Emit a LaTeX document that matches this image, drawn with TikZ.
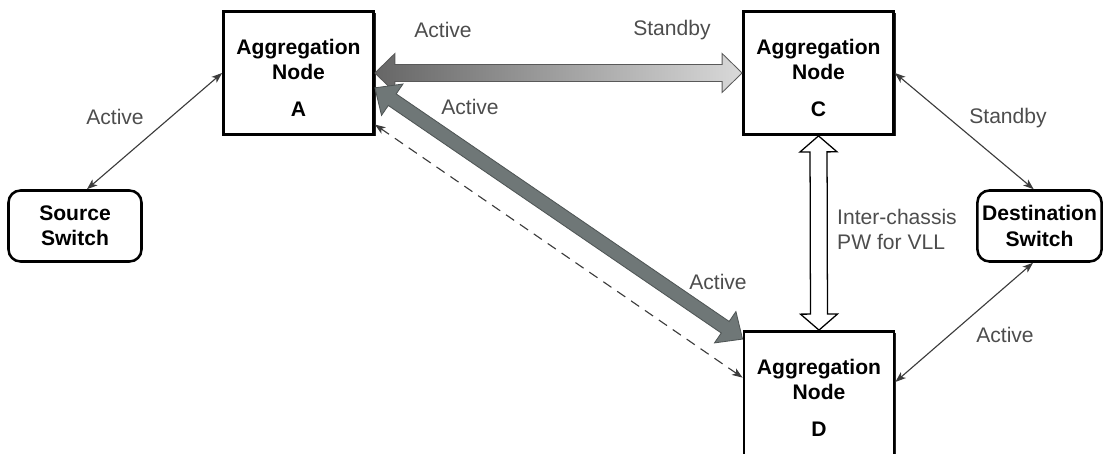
\documentclass[tikz,border=0pt]{standalone}
\usepackage{fontspec}
\setmainfont{Liberation Sans}
\usetikzlibrary{arrows.meta,calc,shadows}

\definecolor{lblgray}{HTML}{4D4D4D}
\definecolor{linegray}{HTML}{3C3C3C}
\definecolor{fatgray}{HTML}{6F7777}
\definecolor{fatedge}{HTML}{4F5555}

% fat double arrow: from, to, shaft half width, head half width, head length
\newcommand{\fatarrow}[6][]{%
  \path[#1] let \p1=(#2),\p2=(#3),\n1={atan2(\y2-\y1,\x2-\x1)},\n2={veclen(\x2-\x1,\y2-\y1)} in
    [shift={(\p1)},rotate=\n1]
    (0,0) -- (#6,#5) -- (#6,#4) -- ({\n2-#6},#4) -- ({\n2-#6},#5) -- (\n2,0)
    -- ({\n2-#6},-#5) -- ({\n2-#6},-#4) -- (#6,-#4) -- (#6,-#5) -- cycle;}
\newcommand{\aggtext}[1]{\rule{0pt}{17.7pt}Aggregation\\Node\\[8pt]#1}

\begin{document}
\begin{tikzpicture}[
  aggnode/.style={draw,line width=2pt,fill=white,minimum width=3.75cm,minimum height=3.075cm,
    align=center,font=\bfseries\fontsize{15}{18}\selectfont,
    drop shadow={shadow xshift=0.05cm,shadow yshift=-0.05cm,fill=black!85,opacity=1}},
  switchnode/.style={draw,line width=1.8pt,rounded corners=0.3cm,minimum height=1.775cm,
    align=center,font=\bfseries\fontsize{15}{18}\selectfont},
  lbl/.style={text=lblgray,font=\fontsize{15}{18}\selectfont},
  link/.style={draw=linegray,line width=0.8pt,
    {Stealth[length=7.5pt,width=5.5pt,inset=2pt]}-{Stealth[length=7.5pt,width=5.5pt,inset=2pt]}}]
\useasboundingbox (0,0) rectangle (27.6,11.35);

\node[aggnode] (A) at (7.4625,9.525) {\aggtext{A}};
\node[aggnode] (C) at (20.4625,9.525) {\aggtext{C}};
\node[aggnode,minimum height=3.475cm] (D) at (20.475,1.325) {\aggtext{D\rule[-0.4cm]{0pt}{0.4cm}}};
\node[switchnode,minimum width=3.325cm] (src) at (1.875,5.7) {Source\\Switch};
\node[switchnode,minimum width=3.1cm] (dst) at (25.9875,5.7) {Destination\\Switch};

\draw[link] (src.72) -- (A.west);
\draw[link] (C.east) -- (dst.99);
\draw[link] (D.14) -- (dst.-100);
\draw[link,dash pattern=on 7pt off 5pt] (A.-34) -- (D.163);

\fatarrow[shade,left color=black!60,right color=black!15,draw=black!65,line width=0.6pt]{A.east}{C.west}{0.2125cm}{0.4875cm}{0.5cm}
\fatarrow[fill=fatgray,draw=fatedge,line width=0.6pt]{A.-11}{D.141}{0.175cm}{0.475cm}{0.525cm}
\fatarrow[fill=white,draw=black,line width=0.9pt]{C.south}{D.north}{0.2125cm}{0.4625cm}{0.4cm}

\node[lbl] (l1) at (2.875,8.425) {Active};
\node[lbl] (l2) at (11.075,10.6) {Active};
\node[lbl] (l3) at (16.8,10.6) {Standby};
\node[lbl] (l4) at (11.75,8.675) {Active};
\node[lbl] (l5) at (17.95,4.3) {Active};
\node[lbl] (l6) at (25.2,8.4) {Standby};
\node[lbl] (l7) at (25.125,2.975) {Active};
\node[lbl,align=left] (l8) at (22.425,5.6125) {Inter-chassis\\PW for VLL};
\end{tikzpicture}
\end{document}
